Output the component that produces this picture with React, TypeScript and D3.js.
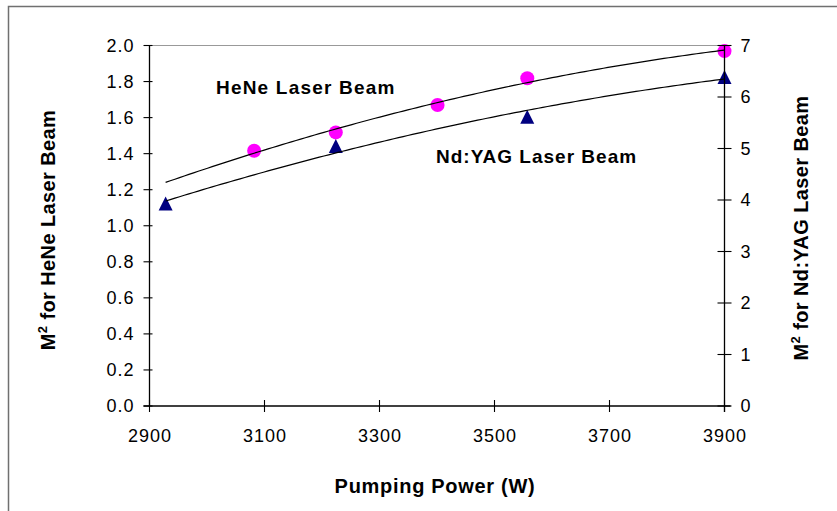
import * as d3 from 'd3';

// HeNe beam (left axis)
const hePower = [3082, 3224, 3401, 3557, 3900];
const heM2 = [1.416, 1.518, 1.67, 1.818, 1.969];

// Nd:YAG beam (right axis)
const ndPower = [2928, 3224, 3557, 3900];
const ndM2 = [3.93, 5.05, 5.615, 6.39];

const xTicks = [2900, 3100, 3300, 3500, 3700, 3900];
const leftTicks = [0, 0.2, 0.4, 0.6, 0.8, 1.0, 1.2, 1.4, 1.6, 1.8, 2.0];
const rightTicks = [0, 1, 2, 3, 4, 5, 6, 7];

const W = 837;
const H = 511;
const font = "'Liberation Sans', Arial, sans-serif";

// least squares polynomial of order 2, like the spreadsheet trendline
const polyFit = (xs: number[], ys: number[]) => {
  const x0 = 3400;
  const u = xs.map((x) => (x - x0) / 100);
  const s = (p: number) => d3.sum(u, (v) => Math.pow(v, p));
  const t = (p: number) => d3.sum(u, (v, i) => Math.pow(v, p) * ys[i]);
  const m = [
    [s(0), s(1), s(2), t(0)],
    [s(1), s(2), s(3), t(1)],
    [s(2), s(3), s(4), t(2)],
  ];
  for (let i = 0; i < 3; i++) {
    for (let k = i + 1; k < 3; k++) {
      const f = m[k][i] / m[i][i];
      for (let j = i; j < 4; j++) m[k][j] -= f * m[i][j];
    }
  }
  const c = [0, 0, 0];
  for (let i = 2; i >= 0; i--) {
    let v = m[i][3];
    for (let j = i + 1; j < 3; j++) v -= m[i][j] * c[j];
    c[i] = v / m[i][i];
  }
  return (x: number) => {
    const v = (x - x0) / 100;
    return c[0] + c[1] * v + c[2] * v * v;
  };
};

const App = () => {
  const x = d3.scaleLinear().domain([2900, 3900]).range([149.5, 724.5]);
  const yL = d3.scaleLinear().domain([0, 2]).range([406, 45.5]);
  const yR = d3.scaleLinear().domain([0, 7]).range([406, 45.5]);

  const xMin = d3.min([...hePower, ...ndPower]) as number;
  const xMax = d3.max([...hePower, ...ndPower]) as number;
  const samples = d3.range(0, 121).map((i) => xMin + ((xMax - xMin) * i) / 120);

  const heFit = polyFit(hePower, heM2);
  const ndFit = polyFit(ndPower, ndM2);

  const heLine = d3
    .line<number>()
    .x((d) => x(d))
    .y((d) => yL(heFit(d)));
  const ndLine = d3
    .line<number>()
    .x((d) => x(d))
    .y((d) => yR(ndFit(d)));

  const tri = (cx: number, cy: number) =>
    `M${cx},${cy - 7}L${cx + 7},${cy + 7}L${cx - 7},${cy + 7}Z`;

  const [y0] = yL.range();
  const [x0, x1] = x.range();

  return (
    <svg
      width={W}
      height={H}
      style={{ position: 'absolute', left: 0, top: 0, background: '#fff' }}
      fontFamily={font}
    >
      <rect x={8.5} y={6.5} width={W} height={H} fill="none" stroke="#707070" strokeWidth={1.5} />

      {/* plot area top border */}
      <line x1={x0} x2={x1} y1={yL(2)} y2={yL(2)} stroke="#999" strokeWidth={1.2} />

      {/* markers */}
      {hePower.map((p, i) => (
        <circle key={'he' + i} cx={x(p)} cy={yL(heM2[i])} r={7} fill="#ff00ff" />
      ))}
      {ndPower.map((p, i) => (
        <path key={'nd' + i} d={tri(x(p), yR(ndM2[i]))} fill="#000080" />
      ))}

      {/* trendlines */}
      <path d={heLine(samples) ?? ''} fill="none" stroke="#000" strokeWidth={1.2} />
      <path d={ndLine(samples) ?? ''} fill="none" stroke="#000" strokeWidth={1.2} />

      {/* axes */}
      <line x1={x0} x2={x0} y1={yL(2)} y2={y0} stroke="#000" strokeWidth={1.3} />
      <line x1={x1} x2={x1} y1={yL(2)} y2={y0 + 6} stroke="#000" strokeWidth={1.3} />
      <line x1={x0 - 6} x2={x1 + 6} y1={y0} y2={y0} stroke="#000" strokeWidth={1.3} />

      {leftTicks.map((t) => (
        <g key={'l' + t}>
          <line x1={x0 - 6} x2={x0 + 3} y1={yL(t)} y2={yL(t)} stroke="#000" strokeWidth={1.1} />
          <text x={x0 - 15} y={yL(t)} dy="0.36em" textAnchor="end" fontSize={18} letterSpacing={1}>
            {d3.format('.1f')(t)}
          </text>
        </g>
      ))}
      {rightTicks.map((t) => (
        <g key={'r' + t}>
          <line x1={x1 - 7} x2={x1 + 7} y1={yR(t)} y2={yR(t)} stroke="#000" strokeWidth={1.1} />
          <text x={x1 + 16} y={yR(t)} dy="0.36em" textAnchor="start" fontSize={18}>
            {t}
          </text>
        </g>
      ))}
      {xTicks.map((t) => (
        <g key={'x' + t}>
          <line x1={x(t)} x2={x(t)} y1={y0 - 6} y2={y0 + 6} stroke="#000" strokeWidth={1.1} />
          <text x={x(t) + 0.5} y={442} textAnchor="middle" fontSize={18} letterSpacing={1}>
            {t}
          </text>
        </g>
      ))}

      {/* series labels */}
      <text x={216} y={94} fontSize={19} fontWeight="bold" letterSpacing={1.2}>
        HeNe Laser Beam
      </text>
      <text x={436} y={163} fontSize={19} fontWeight="bold" letterSpacing={1}>
        Nd:YAG Laser Beam
      </text>

      {/* axis titles */}
      <text x={435} y={493} textAnchor="middle" fontSize={20} fontWeight="bold" letterSpacing={0.7}>
        Pumping Power (W)
      </text>
      <text
        transform="translate(55,230) rotate(-90)"
        textAnchor="middle"
        fontSize={20}
        fontWeight="bold"
        letterSpacing={0.4}
      >
        M<tspan fontSize={13} dy={-8}>2</tspan>
        <tspan dy={8}> for HeNe Laser Beam</tspan>
      </text>
      <text
        transform="translate(808,228) rotate(-90)"
        textAnchor="middle"
        fontSize={20}
        fontWeight="bold"
        letterSpacing={0.4}
      >
        M<tspan fontSize={13} dy={-8}>2</tspan>
        <tspan dy={8}> for Nd:YAG Laser Beam</tspan>
      </text>
    </svg>
  );
};

export default App;
